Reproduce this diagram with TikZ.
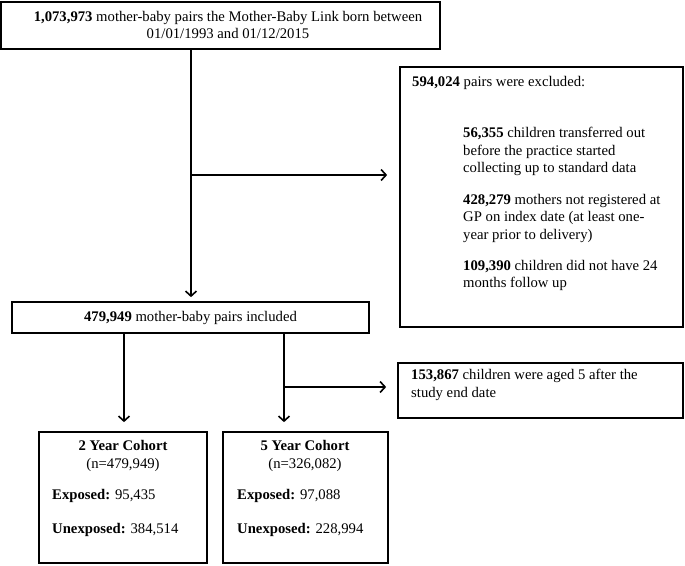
\documentclass[tikz,border=0pt]{standalone}
\usepackage{fontspec}
\setmainfont{Liberation Serif}
\usetikzlibrary{arrows.meta}
\begin{document}
\begin{tikzpicture}[x=1pt,y=-1pt,
  every node/.style={font=\fontsize{14.7}{17.5}\selectfont, inner sep=0pt},
  box/.style={draw, line width=1.7pt, rectangle},
  txt/.style={anchor=north west, align=left},
  conn/.style={line width=1.4pt, -{Straight Barb[length=5pt,width=11pt,line width=1.6pt]}}]
\useasboundingbox[fill=white] (0,0) rectangle (685,565);

% boxes
\node[box, minimum width=439pt, minimum height=47pt] (top) at (220.5,25.5) {};
\node[box, minimum width=283pt, minimum height=260pt] (excl) at (541.5,197) {};
\node[box, minimum width=357pt, minimum height=31pt] (incl) at (190.5,317.5) {};
\node[box, minimum width=285pt, minimum height=55pt] (aged) at (540.5,390.5) {};
\node[box, minimum width=168pt, minimum height=131pt] (c2) at (123,497.5) {};
\node[box, minimum width=165pt, minimum height=131pt] (c5) at (305.5,497.5) {};

% texts
\node[align=center] (toptxt) at (228,25) {\textbf{1,073,973} mother-baby pairs the Mother-Baby Link born between\\01/01/1993 and 01/12/2015};
\node[txt] (exh) at (412,76) {\textbf{594,024} pairs were excluded:};
\node[txt] (ex1) at (463,127) {\textbf{56,355} children transferred out\\before the practice started\\collecting up to standard data};
\node[txt] (ex2) at (463,194) {\textbf{428,279} mothers not registered at\\GP on index date (at least one-\\year prior to delivery)};
\node[txt] (ex3) at (463,260) {\textbf{109,390} children did not have 24\\months follow up};
\node (incltxt) at (190.5,318) {\textbf{479,949} mother-baby pairs included};
\node[txt] (agedtxt) at (411,369) {\textbf{153,867} children were aged 5 after the\\study end date};
\node[align=center] (c2t) at (123,456) {\textbf{2 Year Cohort}\\(n=479,949)};
\node[txt] (c2e) at (52,489) {\textbf{Exposed:} 95,435};
\node[txt] (c2u) at (52,523) {\textbf{Unexposed:} 384,514};
\node[align=center] (c5t) at (305,456) {\textbf{5 Year Cohort}\\(n=326,082)};
\node[txt] (c5e) at (237,489) {\textbf{Exposed:} 97,088};
\node[txt] (c5u) at (237,523) {\textbf{Unexposed:} 228,994};

% connectors
\coordinate (j1) at (191,175);
\coordinate (j2) at (124,340);
\coordinate (j3) at (284,387);
\draw[conn, shorten >=4pt] (top.south -| j1) -- (incl.north -| j1);
\draw[conn, shorten >=12pt] (j1) -- (excl.west |- j1);
\draw[conn, shorten >=9pt] (incl.south -| j2) -- (c2.north -| j2);
\draw[conn, shorten >=9pt] (incl.south -| j3) -- (c5.north -| j3);
\draw[conn, shorten >=11pt] (j3) -- (aged.west |- j3);
\end{tikzpicture}
\end{document}
